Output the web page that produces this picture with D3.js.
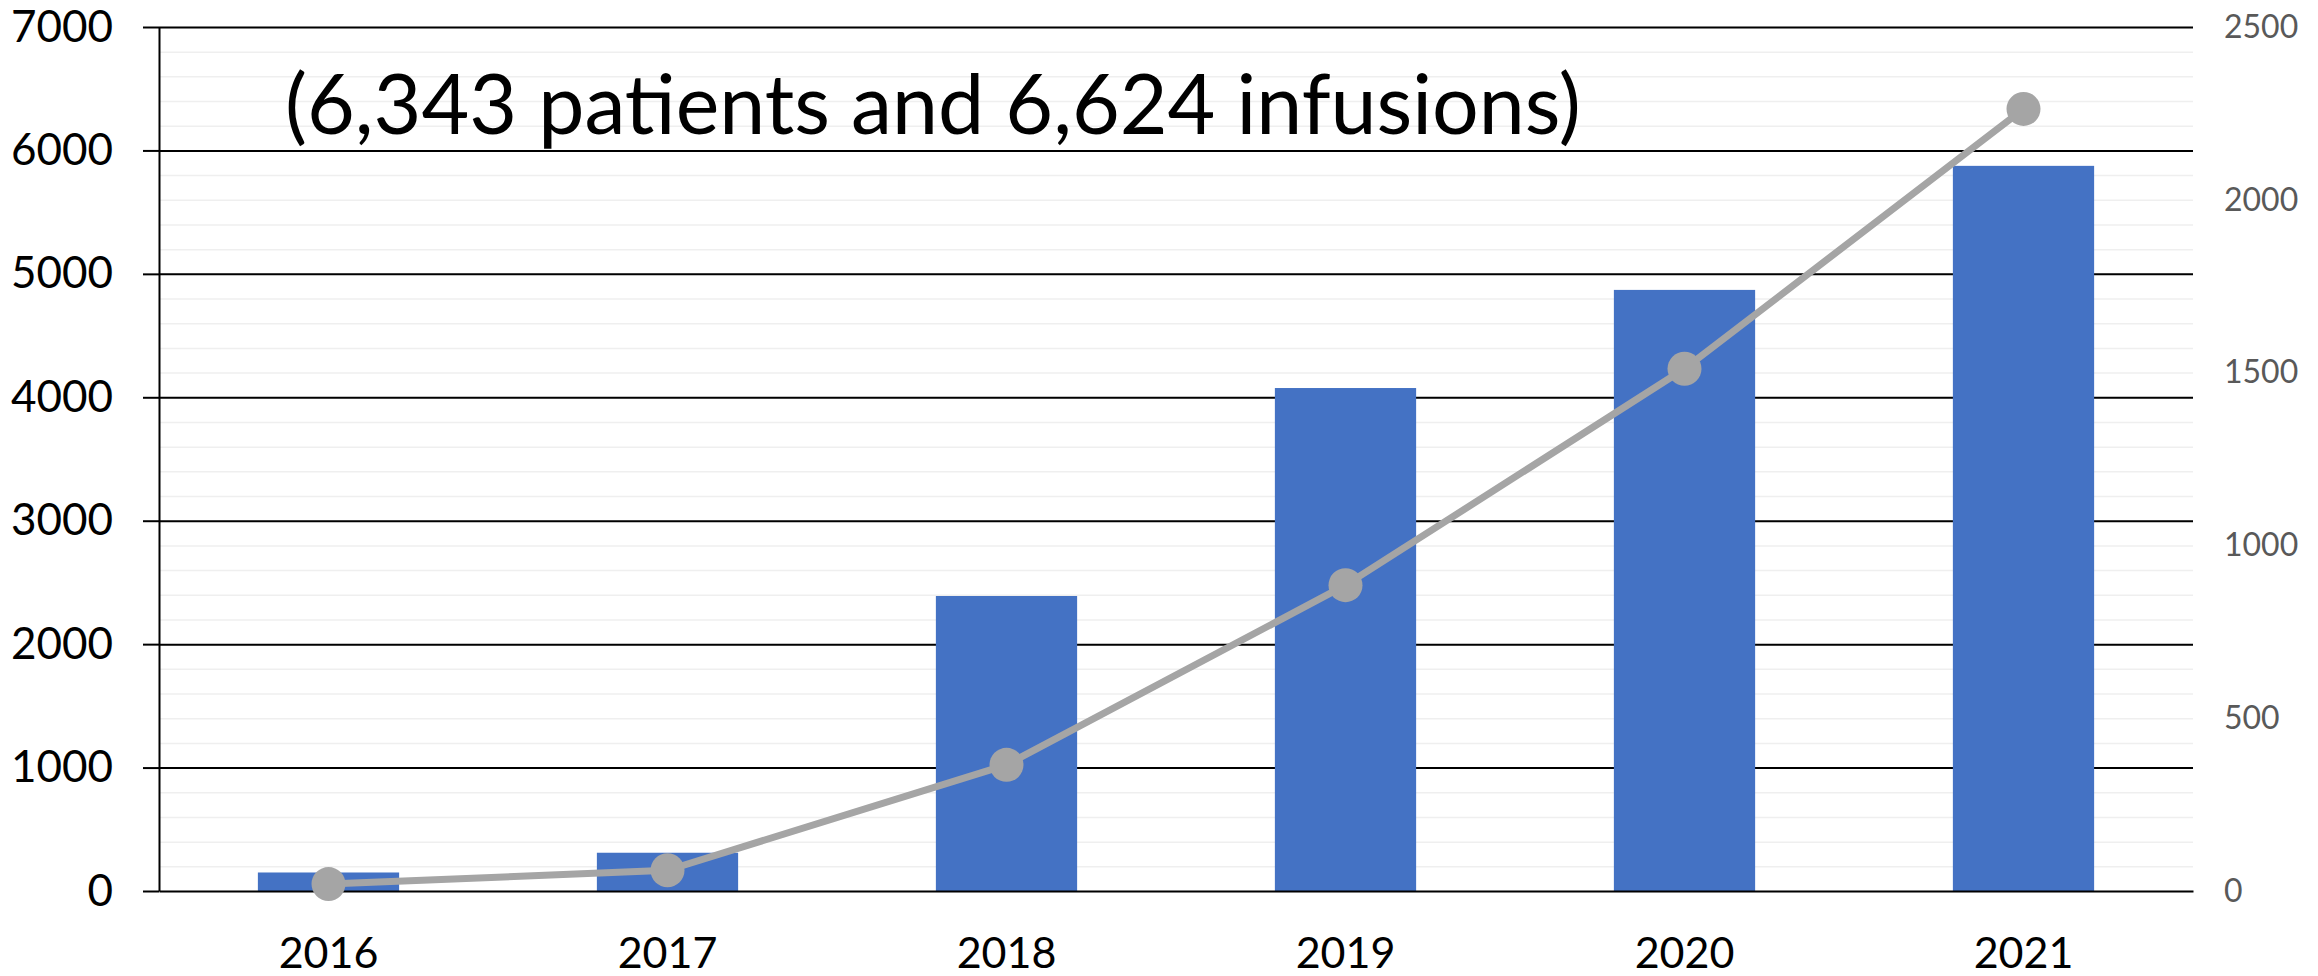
<!DOCTYPE html>
<html lang="en">
	<head>
		<meta charset="utf-8">
		<title>Patients and infusions</title>
		<script type="text/javascript" src="https://d3js.org/d3.v7.min.js"></script>
		<style type="text/css">
			body {
				margin: 0;
				background-color: #ffffff;
				font-family: Lato, "Open Sans", Arial, sans-serif;
			}
		</style>
	</head>
	<body>
		<script type="text/javascript">

			// Data
			var years = ["2016", "2017", "2018", "2019", "2020", "2021"];
			var barValues = [150, 310, 2390, 4075, 4870, 5875];     // left axis
			var lineValues = [20, 60, 365, 885, 1511, 2263];        // right axis
			var leftTicks = [0, 1000, 2000, 3000, 4000, 5000, 6000, 7000];
			var rightTicks = [0, 500, 1000, 1500, 2000, 2500];
			var title = "(6,343 patients and 6,624 infusions)";

			//Width and height
			var w = 2318;
			var h = 976;
			// plot area edges (window.top is reserved, so prefix them)
			var plotLeft = 159, plotRight = 2193, plotTop = 27, plotBottom = 891;

			var svg = d3.select("body")
				.append("svg")
				.attr("width", w)
				.attr("height", h);

			var x = d3.scaleBand()
				.domain(years)
				.range([plotLeft, plotRight])
				.padding(0);

			var yL = d3.scaleLinear()
				.domain([0, 7000])
				.range([plotBottom, plotTop]);

			var yR = d3.scaleLinear()
				.domain([0, 2500])
				.range([plotBottom, plotTop]);

			var plotW = plotRight - plotLeft;

			// minor gridlines
			svg.append("g")
				.attr("transform", "translate(" + plotLeft + ",0)")
				.call(d3.axisLeft(yL).tickValues(yL.ticks(35)).tickSize(-plotW).tickFormat(""))
				.call(function(g) { g.select(".domain").remove(); })
				.selectAll("line")
				.attr("stroke", "#efefef")
				.attr("stroke-width", 1.5);

			// major gridlines (the 0 line is drawn later, above the bars)
			svg.append("g")
				.attr("transform", "translate(" + plotLeft + ",0)")
				.call(d3.axisLeft(yL).tickValues(leftTicks.slice(1)).tickSize(-plotW).tickFormat(""))
				.call(function(g) { g.select(".domain").remove(); })
				.selectAll("line")
				.attr("stroke", "#000")
				.attr("stroke-width", 2);

			// bars, Excel gap width 140%
			var bw = x.bandwidth() / 2.4;
			svg.selectAll("rect.bar")
				.data(barValues)
				.enter()
				.append("rect")
				.attr("class", "bar")
				.attr("x", function(d, i) { return x(years[i]) + (x.bandwidth() - bw) / 2; })
				.attr("y", function(d) { return yL(d); })
				.attr("width", bw)
				.attr("height", function(d) { return yL(0) - yL(d); })
				.attr("fill", "#4472c4");

			// bottom axis
			var xAxis = svg.append("g")
				.attr("transform", "translate(0," + plotBottom + ")")
				.call(d3.axisBottom(x).tickSize(0).tickPadding(46));
			xAxis.select(".domain").attr("stroke", "#000").attr("stroke-width", 2);
			xAxis.selectAll("text")
				.attr("fill", "#000")
				.style("font-family", "Lato, 'Open Sans', Arial, sans-serif")
				.style("font-size", "43px");

			// left axis
			var yAxisL = svg.append("g")
				.attr("transform", "translate(" + plotLeft + ",0)")
				.call(d3.axisLeft(yL).tickValues(leftTicks).tickSize(16).tickSizeOuter(0).tickPadding(30).tickFormat(d3.format("d")));
			yAxisL.select(".domain").attr("stroke", "#000").attr("stroke-width", 2);
			yAxisL.selectAll("line").attr("stroke", "#000").attr("stroke-width", 2);
			yAxisL.selectAll("text")
				.attr("fill", "#000")
				.style("font-family", "Lato, 'Open Sans', Arial, sans-serif")
				.style("font-size", "44px");

			// right axis
			var yAxisR = svg.append("g")
				.attr("transform", "translate(" + plotRight + ",0)")
				.call(d3.axisRight(yR).tickValues(rightTicks).tickSize(0).tickPadding(31).tickFormat(d3.format("d")));
			yAxisR.select(".domain").remove();
			yAxisR.selectAll("text")
				.attr("fill", "#595959")
				.style("font-family", "Lato, 'Open Sans', Arial, sans-serif")
				.style("font-size", "32px");

			// line series
			var line = d3.line()
				.x(function(d, i) { return x(years[i]) + x.bandwidth() / 2; })
				.y(function(d) { return yR(d); });

			svg.append("path")
				.datum(lineValues)
				.attr("d", line)
				.attr("fill", "none")
				.attr("stroke", "#a5a5a5")
				.attr("stroke-width", 7)
				.attr("stroke-linejoin", "round");

			svg.selectAll("circle")
				.data(lineValues)
				.enter()
				.append("circle")
				.attr("cx", function(d, i) { return x(years[i]) + x.bandwidth() / 2; })
				.attr("cy", function(d) { return yR(d); })
				.attr("r", 17)
				.attr("fill", "#a5a5a5");

			// annotation text, sized to span the same width as in the picture
			var t = svg.append("text")
				.attr("x", 285)
				.attr("y", 134)
				.attr("fill", "#000")
				.style("font-family", "Lato, 'Open Sans', Arial, sans-serif")
				.style("font-size", "80px")
				.text(title);
			var len = t.node().getComputedTextLength();
			t.style("font-size", (80 * 1296 / len) + "px");

		</script>
	</body>
</html>
